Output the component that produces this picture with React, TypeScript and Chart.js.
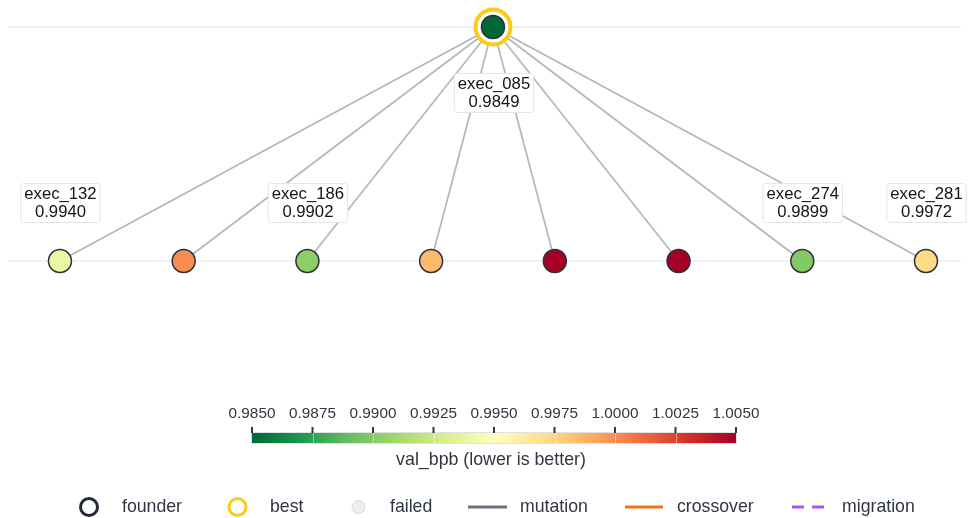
import React, { useEffect, useRef } from 'react';
import { Chart, registerables } from 'chart.js';
Chart.register(...registerables);

// ---- data ----
const rootName = 'exec_085';
const rootValue = 0.9849;
const childNames = ['exec_132', '', 'exec_186', '', '', '', 'exec_274', 'exec_281'];
const childValues = [0.994, 1.0, 0.9902, 0.9985, 1.0068, 1.0072, 0.9899, 0.9972];
const childPositions = [0, 1, 2, 3, 4, 5, 6, 7];
const rootPosition = 3.5;
const cbMin = 0.985;
const cbMax = 1.005;
const cbTicks = [0.985, 0.9875, 0.99, 0.9925, 0.995, 0.9975, 1.0, 1.0025, 1.005];
const legendNames = ['founder', 'best', 'failed', 'mutation', 'crossover', 'migration'];

// RdYlGn (reversed: low = green)
const RDYLGN = [
  [165, 0, 38], [215, 48, 39], [244, 109, 67], [253, 174, 97], [254, 224, 139],
  [255, 255, 191], [217, 239, 139], [166, 217, 106], [102, 189, 99], [26, 152, 80], [0, 104, 55],
];
function colorFor(v: number): string {
  let t = (v - cbMin) / (cbMax - cbMin);
  t = Math.max(0, Math.min(1, t));
  const p = (1 - t) * 10;
  const i = Math.min(9, Math.floor(p));
  const f = p - i;
  const a = RDYLGN[i], b = RDYLGN[i + 1];
  const c = a.map((x, k) => Math.round(x + (b[k] - x) * f));
  return `rgb(${c[0]},${c[1]},${c[2]})`;
}

const FONT = '"Liberation Sans", Arial, sans-serif';
const TEXT = '#2f3642';

export default function App() {
  const ref = useRef<HTMLCanvasElement>(null);
  useEffect(() => {
    document.body.style.margin = '0';
    const canvas = ref.current!;
    const edgeSets = childPositions.map((x) => ({
      type: 'line' as const,
      data: [{ x: rootPosition, y: 1 }, { x, y: 0 }],
      borderColor: '#b3b6bd',
      borderWidth: 1.7,
      pointRadius: 0,
      showLine: true,
      fill: false,
      clip: false as any,
      order: 3,
    }));
    const nodeData = [{ x: rootPosition, y: 1 }, ...childPositions.map((x) => ({ x, y: 0 }))];
    const nodeColors = [colorFor(rootValue), ...childValues.map(colorFor)];

    const gridPlugin = {
      id: 'grid',
      beforeDatasetsDraw(chart: any) {
        const { ctx, chartArea, scales } = chart;
        ctx.save();
        ctx.strokeStyle = '#eceef1';
        ctx.lineWidth = 1.5;
        [0, 1].forEach((v) => {
          const y = scales.y.getPixelForValue(v);
          ctx.beginPath();
          ctx.moveTo(chartArea.left, y);
          ctx.lineTo(chartArea.right, y);
          ctx.stroke();
        });
        ctx.restore();
      },
    };

    const drawBox = (ctx: any, cx: number, cy: number, l1: string, l2: string) => {
      ctx.font = `16.7px ${FONT}`;
      const w = Math.max(ctx.measureText(l1).width, ctx.measureText(l2).width) + 7;
      const h = 39;
      const x0 = cx - w / 2, y0 = cy - h / 2;
      ctx.beginPath();
      if (ctx.roundRect) ctx.roundRect(x0, y0, w, h, 3); else ctx.rect(x0, y0, w, h);
      ctx.fillStyle = '#ffffff';
      ctx.fill();
      ctx.strokeStyle = '#e3e5e9';
      ctx.lineWidth = 1;
      ctx.stroke();
      ctx.fillStyle = '#141414';
      ctx.textAlign = 'center';
      ctx.textBaseline = 'middle';
      ctx.fillText(l1, cx, cy - 9);
      ctx.fillText(l2, cx, cy + 9);
    };

    const labelPlugin = {
      id: 'labels',
      afterDatasetsDraw(chart: any) {
        const { ctx, scales } = chart;
        ctx.save();
        const rx = scales.x.getPixelForValue(rootPosition);
        const ry = scales.y.getPixelForValue(1);
        drawBox(ctx, rx + 1, ry + 66, rootName, rootValue.toFixed(4));
        childPositions.forEach((p, i) => {
          if (!childNames[i]) return;
          const x = scales.x.getPixelForValue(p);
          const y = scales.y.getPixelForValue(0);
          drawBox(ctx, x + 0.5, y - 58, childNames[i], childValues[i].toFixed(4));
        });
        ctx.restore();
      },
    };

    const colorbarPlugin = {
      id: 'colorbar',
      afterDraw(chart: any) {
        const { ctx } = chart;
        const x0 = 252, x1 = 736, y0 = 433, y1 = 443;
        const px = (v: number) => x0 + ((v - cbMin) / (cbMax - cbMin)) * (x1 - x0);
        ctx.save();
        const g = ctx.createLinearGradient(x0, 0, x1, 0);
        RDYLGN.slice().reverse().forEach((c, i) => g.addColorStop(i / 10, `rgb(${c[0]},${c[1]},${c[2]})`));
        ctx.fillStyle = g;
        ctx.fillRect(x0, y0, x1 - x0, y1 - y0);
        ctx.strokeStyle = 'rgba(255,255,255,0.45)';
        ctx.lineWidth = 1;
        cbTicks.slice(1, -1).forEach((v) => {
          const x = Math.round(px(v)) + 0.5;
          ctx.beginPath(); ctx.moveTo(x, y0); ctx.lineTo(x, y1); ctx.stroke();
        });
        ctx.strokeStyle = '#dfe1e4';
        ctx.strokeRect(x0 - 0.5, y0 - 0.5, x1 - x0 + 1, y1 - y0 + 1);
        ctx.strokeStyle = '#2f3642';
        ctx.lineWidth = 2;
        ctx.fillStyle = TEXT;
        ctx.font = `15.3px ${FONT}`;
        ctx.textAlign = 'center';
        ctx.textBaseline = 'middle';
        cbTicks.forEach((v) => {
          const x = px(v);
          ctx.beginPath(); ctx.moveTo(x, 427); ctx.lineTo(x, 433); ctx.stroke();
          ctx.fillText(v.toFixed(4), x, 414);
        });
        ctx.font = `17.8px ${FONT}`;
        ctx.fillText('val_bpb (lower is better)', 491, 460);
        ctx.restore();
      },
    };

    const legendPlugin = {
      id: 'legendCustom',
      afterDraw(chart: any) {
        const { ctx } = chart;
        const y = 507;
        ctx.save();
        // founder
        ctx.beginPath(); ctx.arc(89, y, 8.5, 0, Math.PI * 2);
        ctx.fillStyle = '#fff'; ctx.fill();
        ctx.strokeStyle = '#1f2937'; ctx.lineWidth = 3; ctx.stroke();
        // best
        ctx.beginPath(); ctx.arc(237.5, y, 8.5, 0, Math.PI * 2);
        ctx.fillStyle = '#fff'; ctx.fill();
        ctx.strokeStyle = '#facc15'; ctx.lineWidth = 3; ctx.stroke();
        // failed
        ctx.beginPath(); ctx.arc(358.5, y, 6.5, 0, Math.PI * 2);
        ctx.fillStyle = '#eceef1'; ctx.fill();
        ctx.strokeStyle = '#d4d7dc'; ctx.lineWidth = 1; ctx.stroke();
        // mutation
        ctx.lineWidth = 3;
        ctx.strokeStyle = '#6b7280';
        ctx.beginPath(); ctx.moveTo(468, y); ctx.lineTo(507, y); ctx.stroke();
        ctx.strokeStyle = '#f97316';
        ctx.beginPath(); ctx.moveTo(625, y); ctx.lineTo(663, y); ctx.stroke();
        ctx.strokeStyle = '#a855f7';
        ctx.setLineDash([12, 8]);
        ctx.beginPath(); ctx.moveTo(792, y); ctx.lineTo(824, y); ctx.stroke();
        ctx.setLineDash([]);
        ctx.fillStyle = TEXT;
        ctx.font = `17.7px ${FONT}`;
        ctx.textAlign = 'left';
        ctx.textBaseline = 'middle';
        const xs = [122, 270, 390, 520, 677, 842];
        legendNames.forEach((n, i) => ctx.fillText(n, xs[i], y));
        ctx.restore();
      },
    };

    const chart = new Chart(canvas, {
      type: 'scatter',
      data: {
        datasets: [
          {
            data: nodeData,
            backgroundColor: nodeColors,
            borderColor: '#2b303b',
            borderWidth: 1.5,
            pointRadius: 11.5,
            pointHoverRadius: 11.5,
            clip: false as any,
            order: 1,
          },
          {
            data: [{ x: rootPosition, y: 1 }],
            backgroundColor: '#ffffff',
            borderColor: '#facc15',
            borderWidth: 4,
            pointRadius: 17.5,
            pointHoverRadius: 17.5,
            clip: false as any,
            order: 2,
          },
          ...(edgeSets as any[]),
        ],
      },
      options: {
        animation: false,
        responsive: false,
        events: [],
        layout: { autoPadding: false, padding: { left: 8, right: 8, top: 27, bottom: 257 } },
        plugins: { legend: { display: false }, tooltip: { enabled: false } },
        scales: {
          x: { type: 'linear', min: -0.42, max: 7.283, display: false },
          y: { type: 'linear', min: 0, max: 1, display: false },
        },
      },
      plugins: [gridPlugin, labelPlugin, colorbarPlugin, legendPlugin],
    });
    return () => chart.destroy();
  }, []);
  return (
    <div style={{ width: 969, height: 518, background: '#fff' }}>
      <canvas ref={ref} width={969} height={518} style={{ display: 'block' }} />
    </div>
  );
}
